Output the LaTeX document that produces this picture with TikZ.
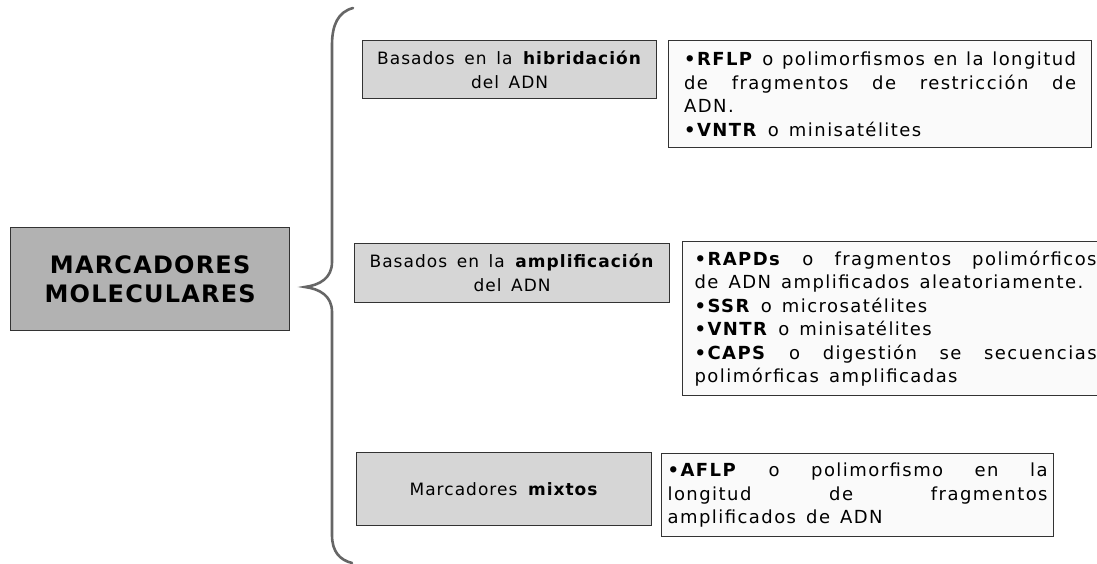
\documentclass[tikz,border=0pt]{standalone}
\usepackage{fontspec}
\setmainfont[LetterSpace=5]{DejaVu Sans}
\newfontfamily\lblfont[LetterSpace=6,WordSpace=1.5]{DejaVu Sans}
\newfontfamily\txtfont[LetterSpace=8,WordSpace=1.4]{DejaVu Sans}
\begin{document}
\begin{tikzpicture}[x=1pt,y=-1pt,
  mainbox/.style={draw=black!80, line width=1.3pt, fill=black!30, align=center,
    font=\fontsize{24}{29}\selectfont\bfseries, inner sep=0pt, anchor=north west},
  lbl/.style={draw=black!80, line width=1.2pt, fill=black!16, align=center,
    font=\lblfont\fontsize{17}{24}\selectfont, inner sep=0pt, anchor=north west},
  txt/.style={draw=black!80, line width=1.2pt, fill=black!2, align=justify,
    font=\txtfont\fontsize{18}{23.5}\selectfont, inner ysep=0pt, anchor=north west},
  brace/.style={draw=black!60, line width=2.6pt, line cap=round}
]
\useasboundingbox (0,0) rectangle (1097,564);
\fill[white] (0,0) rectangle (1097,564);

\node[mainbox, minimum width=279pt, minimum height=103pt] (main) at (10,227) {MARCADORES\\MOLECULARES};

\draw[brace] (353,8) .. controls (338,12) and (332,25) .. (332,45) -- (332,262)
  .. controls (332,278) and (320,285) .. (305,287)
  .. controls (320,289) and (332,296) .. (332,312) -- (332,535)
  .. controls (332,552) and (340,560) .. (352,563);

\node[lbl, minimum width=294pt, minimum height=58pt] (hib) at (362,40) {Basados en la \textbf{hibridación}\\del ADN};
\node[lbl, minimum width=315pt, minimum height=59pt] (amp) at (354,243) {Basados en la \textbf{amplificación}\\del ADN};
\node[lbl, minimum width=295pt, minimum height=73pt] (mix) at (356,452) {Marcadores \textbf{mixtos}};

\node[txt, text width=392pt, inner xsep=15.5pt, minimum height=107pt] (thib) at (668,40)
 {\textbf{•RFLP} o polimorfismos en la longitud\linebreak de fragmentos de restricción de\linebreak ADN.\\\textbf{•VNTR} o minisatélites};
\node[txt, text width=402pt, inner xsep=12pt, minimum height=154pt] (tamp) at (682,241)
 {\textbf{•RAPDs} o fragmentos polimórficos\linebreak de ADN amplificados aleatoriamente.\\\textbf{•SSR} o microsatélites\\\textbf{•VNTR} o minisatélites\\\textbf{•CAPS} o digestión se secuencias\linebreak polimórficas amplificadas};
\node[txt, text width=380pt, inner xsep=6pt, minimum height=83pt] (tmix) at (661,453)
 {\textbf{•AFLP} o polimorfismo en la\linebreak longitud de fragmentos\linebreak amplificados de ADN};
\end{tikzpicture}
\end{document}
